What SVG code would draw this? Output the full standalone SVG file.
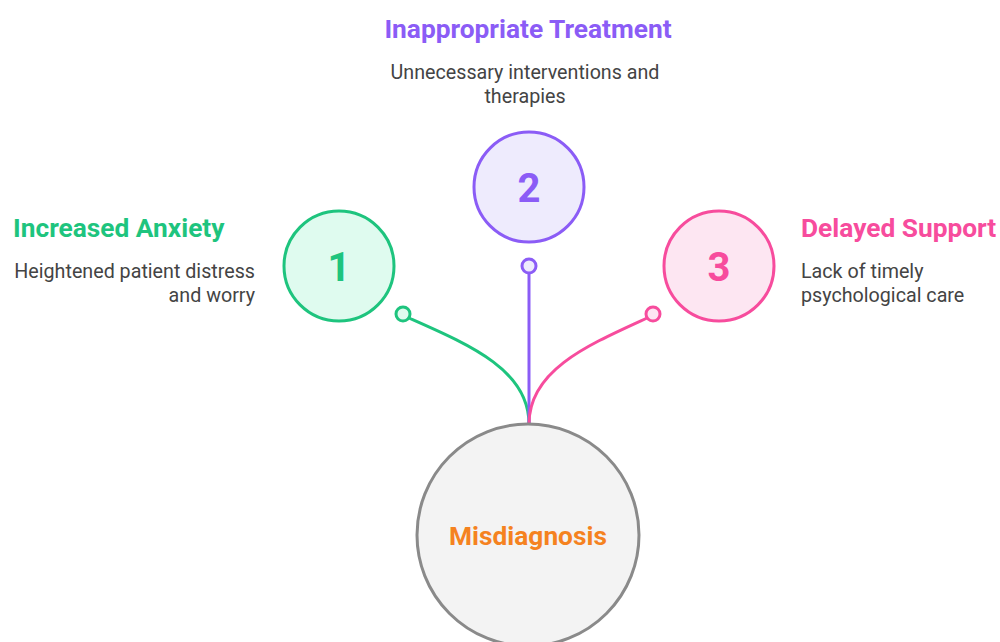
<svg xmlns="http://www.w3.org/2000/svg" width="1000" height="642" viewBox="0 0 1000 642">
<style>
.t{font-family:Roboto,"Liberation Sans",sans-serif;font-weight:700;font-size:26.3px}
.d{font-family:Roboto,"Liberation Sans",sans-serif;font-size:19.7px;fill:#444}
.n{font-family:Roboto,"Liberation Sans",sans-serif;font-weight:700;font-size:40px;text-anchor:middle}
.c{stroke-width:3;fill:none}
</style>
<rect width="1000" height="642" fill="#fff"/>
<g id="connectors">
<path class="c" d="M409 318 C470 345 529 370 529 424" stroke="#1EC47E"/>
<path class="c" d="M529 273 L529 424" stroke="#8B5CF6"/>
<path class="c" d="M647 318 C588 345 529 370 529 424" stroke="#F74C9D"/>
<circle cx="403" cy="314" r="7" fill="#DFFBEF" stroke="#1EC47E" stroke-width="3"/>
<circle cx="529" cy="266" r="7" fill="#EEEBFD" stroke="#8B5CF6" stroke-width="3"/>
<circle cx="653" cy="314" r="7" fill="#FDE6F2" stroke="#F74C9D" stroke-width="3"/>
</g>
<g id="node-main">
<circle cx="528" cy="535" r="111" fill="#F3F3F3" stroke="#8A8A8A" stroke-width="3"/>
<text class="t" x="528" y="545" text-anchor="middle" fill="#F5821F">Misdiagnosis</text>
</g>
<g id="node-1">
<circle cx="339" cy="266" r="55" fill="#DFFBEF" stroke="#1EC47E" stroke-width="3"/>
<text class="n" x="339" y="281" fill="#1EC47E">1</text>
<text class="t" x="13" y="237" fill="#1EC47E">Increased Anxiety</text>
<text class="d" x="255" y="278" text-anchor="end">Heightened patient distress</text>
<text class="d" x="255" y="302" text-anchor="end">and worry</text>
</g>
<g id="node-2">
<circle cx="529" cy="187" r="55" fill="#EEEBFD" stroke="#8B5CF6" stroke-width="3"/>
<text class="n" x="529" y="202" fill="#8B5CF6">2</text>
<text class="t" x="528" y="38" text-anchor="middle" fill="#8B5CF6">Inappropriate Treatment</text>
<text class="d" x="525" y="79" text-anchor="middle">Unnecessary interventions and</text>
<text class="d" x="525" y="103" text-anchor="middle">therapies</text>
</g>
<g id="node-3">
<circle cx="719" cy="266" r="55" fill="#FDE6F2" stroke="#F74C9D" stroke-width="3"/>
<text class="n" x="719" y="281" fill="#F74C9D">3</text>
<text class="t" x="801" y="237" fill="#F74C9D">Delayed Support</text>
<text class="d" x="801" y="278">Lack of timely</text>
<text class="d" x="801" y="302">psychological care</text>
</g>
</svg>
